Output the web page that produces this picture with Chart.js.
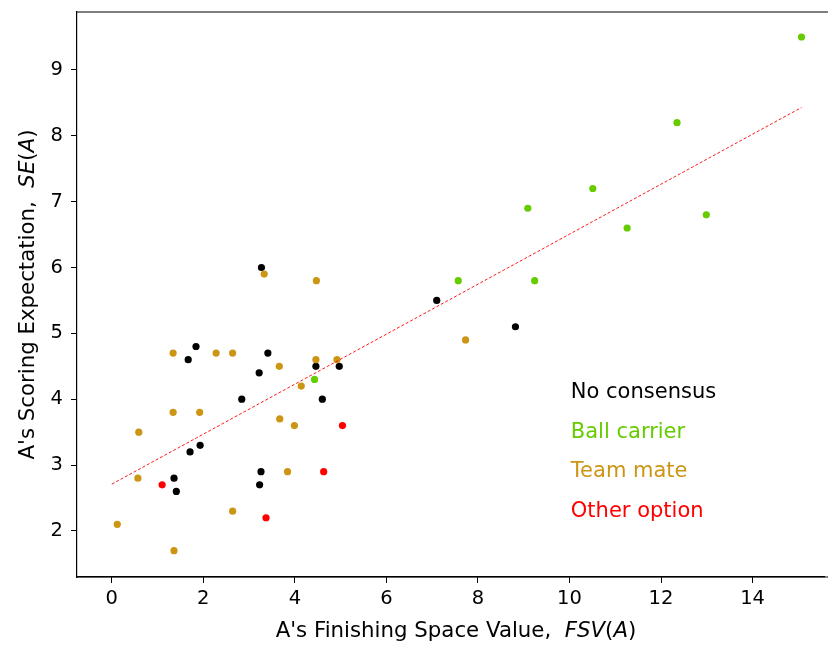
<!DOCTYPE html>
<html>
<head>
<meta charset="utf-8">
<script src="https://cdn.jsdelivr.net/npm/chart.js@4"></script>
<style>
  html, body { margin: 0; padding: 0; background: #fff; }
  #wrap { width: 828px; height: 646px; }
</style>
</head>
<body>
<div id="wrap"><canvas id="js--chart"></canvas></div>
<script>
// FSV(A) vs SE(A) for each category
const noConsensusX = [1.84, 1.67, 3.41, 3.22, 4.46, 4.97, 2.84, 4.60, 1.93, 1.71, 1.36, 1.41, 3.26, 3.23, 3.27, 7.10, 8.82];
const noConsensusY = [4.8, 4.6, 4.7, 4.4, 4.5, 4.5, 4.0, 4.0, 3.3, 3.2, 2.8, 2.6, 2.9, 2.7, 6.0, 5.5, 5.1];

const ballCarrierX = [4.43, 7.57, 9.24, 9.09, 10.51, 11.26, 12.35, 12.99, 15.07];
const ballCarrierY = [4.3, 5.8, 5.8, 6.9, 7.2, 6.6, 8.2, 6.8, 9.5];

const teamMateX = [1.34, 2.28, 2.64, 3.66, 4.46, 4.92, 4.14, 1.34, 1.92, 3.67, 3.99, 0.59, 0.57, 3.84, 2.64, 0.12, 1.36, 3.33, 4.47, 7.73];
const teamMateY = [4.7, 4.7, 4.7, 4.5, 4.6, 4.6, 4.2, 3.8, 3.8, 3.7, 3.6, 3.5, 2.8, 2.9, 2.3, 2.1, 1.7, 5.9, 5.8, 4.9];

const otherOptionX = [5.04, 1.10, 4.63, 3.37];
const otherOptionY = [3.6, 2.7, 2.9, 2.2];

// fitted line end points
const trendX = [0, 15.07];
const trendY = [2.71, 8.43];

const xTicks = [0, 2, 4, 6, 8, 10, 12, 14];
const yTicks = [2, 3, 4, 5, 6, 7, 8, 9];

// text labels placed inside the plot (data coords)
const labelNames = ["No consensus", "Ball carrier", "Team mate", "Other option"];
const labelColors = ["#000000", "#66cc00", "#cc9614", "#ff0000"];
const labelX = 10.03;
const labelY = [4.1, 3.5, 2.9, 2.3];

function toPoints(xs, ys) {
    return xs.map(function (x, i) { return { x: x, y: ys[i] }; });
}

const fontName = "'DejaVu Sans', sans-serif";

const framePlugin = {
    id: "frame",
    afterDraw: function (chart) {
        const ctx = chart.ctx;
        const a = chart.chartArea;
        const xs = chart.scales.x;
        const ys = chart.scales.y;
        ctx.save();
        // the right spine falls outside the picture, so only top and bottom run to the edge
        ctx.strokeStyle = "#000";
        ctx.lineWidth = 1.2;
        ctx.beginPath();
        ctx.moveTo(a.left, a.top);
        ctx.lineTo(chart.width, a.top);
        ctx.moveTo(a.left, a.bottom);
        ctx.lineTo(chart.width, a.bottom);
        ctx.stroke();

        // category labels
        ctx.font = "21px " + fontName;
        ctx.textAlign = "left";
        ctx.textBaseline = "middle";
        labelNames.forEach(function (name, i) {
            ctx.fillStyle = labelColors[i];
            ctx.fillText(name, xs.getPixelForValue(labelX), ys.getPixelForValue(labelY[i]));
        });

        // axis titles with italic parts
        ctx.fillStyle = "#000";
        ctx.textBaseline = "middle";
        function mixed(parts, cx, cy) {
            let w = 0;
            parts.forEach(function (p) {
                ctx.font = (p[1] ? "italic " : "") + "21.3px " + fontName;
                w += ctx.measureText(p[0]).width;
            });
            let x = cx - w / 2;
            ctx.textAlign = "left";
            parts.forEach(function (p) {
                ctx.font = (p[1] ? "italic " : "") + "21.3px " + fontName;
                ctx.fillText(p[0], x, cy);
                x += ctx.measureText(p[0]).width;
            });
        }
        mixed([["A's Finishing Space Value,  ", false], ["FSV", true], ["(", false], ["A", true], [")", false]],
            456, 631);
        ctx.save();
        ctx.translate(28, (a.top + a.bottom) / 2);
        ctx.rotate(-Math.PI / 2);
        mixed([["A's Scoring Expectation,  ", false], ["SE", true], ["(", false], ["A", true], [")", false]], 0, 0);
        ctx.restore();
        ctx.restore();
    }
};

const dotStyle = { pointRadius: 3.6, pointHoverRadius: 3.6, borderWidth: 0 };

const data = {
    datasets: [
        {
            type: "line",
            data: toPoints(trendX, trendY),
            borderColor: "#ff0000",
            borderWidth: 0.9,
            borderDash: [3, 2],
            pointRadius: 0,
            fill: false,
            order: 0
        },
        Object.assign({ data: toPoints(otherOptionX, otherOptionY), backgroundColor: labelColors[3], order: 1 }, dotStyle),
        Object.assign({ data: toPoints(teamMateX, teamMateY), backgroundColor: labelColors[2], order: 2 }, dotStyle),
        Object.assign({ data: toPoints(ballCarrierX, ballCarrierY), backgroundColor: labelColors[1], order: 3 }, dotStyle),
        Object.assign({ data: toPoints(noConsensusX, noConsensusY), backgroundColor: labelColors[0], order: 4 }, dotStyle)
    ]
};

const config = {
    type: "scatter",
    data: data,
    options: {
        responsive: false,
        animation: false,
        layout: { padding: { top: 12, right: 0, left: 0, bottom: 0 } },
        plugins: { legend: { display: false }, tooltip: { enabled: false } },
        scales: {
            x: {
                type: "linear",
                min: -0.76,
                max: 15.57,
                afterBuildTicks: function (scale) {
                    scale.ticks = xTicks.map(function (v) { return { value: v }; });
                },
                afterFit: function (scale) {
                    scale.height = 69;
                    scale.paddingLeft = 0;
                    scale.paddingRight = 0;
                },
                grid: { drawOnChartArea: false, drawTicks: true, tickLength: 6, tickColor: "#000", tickWidth: 1 },
                border: { display: true, color: "#000", width: 1.2 },
                ticks: { color: "#000", font: { family: "DejaVu Sans", size: 19.5 }, padding: 4, maxRotation: 0 }
            },
            y: {
                type: "linear",
                min: 1.30,
                max: 9.88,
                afterBuildTicks: function (scale) {
                    scale.ticks = yTicks.map(function (v) { return { value: v }; });
                },
                afterFit: function (scale) {
                    scale.width = 77;
                    scale.paddingTop = 0;
                    scale.paddingBottom = 0;
                },
                grid: { drawOnChartArea: false, drawTicks: true, tickLength: 6, tickColor: "#000", tickWidth: 1 },
                border: { display: true, color: "#000", width: 1.2 },
                ticks: { color: "#000", font: { family: "DejaVu Sans", size: 19.5 }, padding: 8 }
            }
        }
    },
    plugins: [framePlugin]
};

const canvas = document.getElementById("js--chart");
canvas.width = 828;
canvas.height = 646;
new Chart(canvas, config);
</script>
</body>
</html>
